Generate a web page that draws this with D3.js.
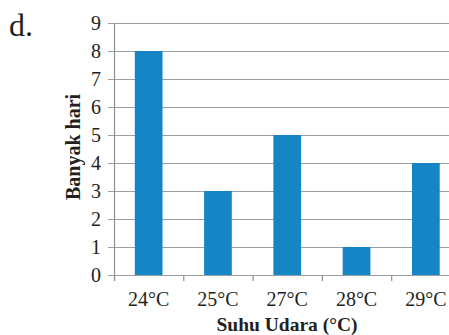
<!DOCTYPE html>
<html>
<head>
<meta charset="utf-8">
<script src="https://cdn.jsdelivr.net/npm/d3@7"></script>
<style>
  body { margin: 0; background: #fff; }
</style>
</head>
<body>
<div id="chart"></div>
<script>
var categories = ['24°C', '25°C', '27°C', '28°C', '29°C'];
var days = [8, 3, 5, 1, 4];
var yTicks = [0, 1, 2, 3, 4, 5, 6, 7, 8, 9];

var width = 449;
var height = 335;
var serif = "'Liberation Serif', 'Times New Roman', serif";

var svg = d3.select('#chart')
  .append('svg')
  .attr('width', width)
  .attr('height', height);

var x = d3.scaleBand()
  .domain(categories)
  .range([114, 460.5])
  .paddingInner(0.6)
  .paddingOuter(0.3);

var y = d3.scaleLinear()
  .domain([0, 9])
  .range([275, 23]);

// gridlines
svg.append('g')
  .selectAll('line')
  .data(yTicks)
  .enter().append('line')
  .attr('x1', 108)
  .attr('x2', width)
  .attr('y1', function(d) { return y(d) + 0.5; })
  .attr('y2', function(d) { return y(d) + 0.5; })
  .attr('stroke', '#9a9fa1')
  .attr('stroke-width', 1.2);

// y axis line
svg.append('line')
  .attr('x1', 114.5).attr('x2', 114.5)
  .attr('y1', y(9)).attr('y2', y(0) + 6)
  .attr('stroke', '#8c9193')
  .attr('stroke-width', 1.2);

// y tick labels
svg.append('g')
  .selectAll('text')
  .data(yTicks)
  .enter().append('text')
  .attr('x', 101)
  .attr('y', function(d) { return y(d); })
  .attr('dy', '0.35em')
  .attr('text-anchor', 'end')
  .style('font-family', serif)
  .style('font-size', '20px')
  .style('fill', '#231f20')
  .text(function(d) { return d; });

// bars
svg.append('g')
  .selectAll('rect')
  .data(days)
  .enter().append('rect')
  .attr('x', function(d, i) { return x(categories[i]); })
  .attr('width', x.bandwidth())
  .attr('y', function(d) { return y(d); })
  .attr('height', function(d) { return y(0) - y(d); })
  .attr('fill', '#1585c5');

// x tick marks at category boundaries
var step = x.step();
var bounds = d3.range(categories.length + 1).map(function(i) { return 114 + i * step; });
svg.append('g')
  .selectAll('line')
  .data(bounds)
  .enter().append('line')
  .attr('x1', function(d) { return d + 0.5; })
  .attr('x2', function(d) { return d + 0.5; })
  .attr('y1', y(0))
  .attr('y2', y(0) + 6)
  .attr('stroke', '#8c9193')
  .attr('stroke-width', 1.2);

// x tick labels
svg.append('g')
  .selectAll('text')
  .data(categories)
  .enter().append('text')
  .attr('x', function(d) { return x(d) + x.bandwidth() / 2; })
  .attr('y', 306)
  .attr('text-anchor', 'middle')
  .style('font-family', serif)
  .style('font-size', '20px')
  .style('fill', '#231f20')
  .text(function(d) { return d; });

// x title
svg.append('text')
  .attr('x', 287)
  .attr('y', 331)
  .attr('text-anchor', 'middle')
  .style('font-family', serif)
  .style('font-size', '19.5px')
  .style('font-weight', 'bold')
  .style('fill', '#231f20')
  .text('Suhu Udara (°C)');

// y title
svg.append('text')
  .attr('transform', 'translate(80,147) rotate(-90)')
  .attr('text-anchor', 'middle')
  .style('font-family', serif)
  .style('font-size', '20px')
  .style('font-weight', 'bold')
  .style('fill', '#231f20')
  .text('Banyak hari');

// panel label
svg.append('text')
  .attr('x', 9)
  .attr('y', 36)
  .style('font-family', serif)
  .style('font-size', '32px')
  .style('fill', '#231f20')
  .text('d.');
</script>
</body>
</html>
